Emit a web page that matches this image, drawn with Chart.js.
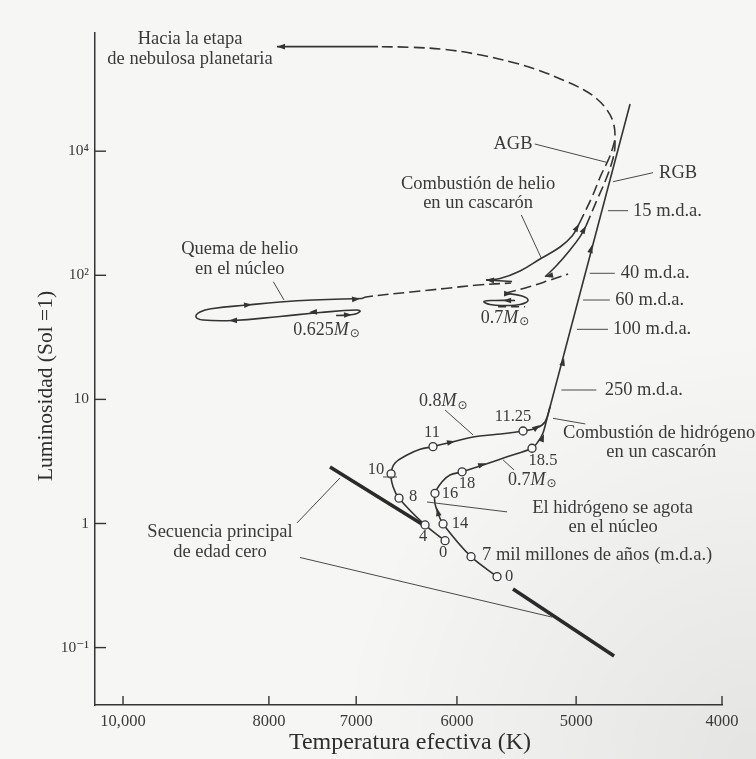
<!DOCTYPE html>
<html>
<head>
<meta charset="utf-8">
<script src="https://cdn.jsdelivr.net/npm/chart.js"></script>
<style>
  html, body { margin: 0; padding: 0; background: #f6f6f5; }
  canvas { display: block; }
</style>
</head>
<body>
<canvas id="hr" width="756" height="759" style="width:756px;height:759px"></canvas>
<script>
// ---- Axis ticks (effective temperature in K, luminosity in solar units) ----
const tempTicks = [10000, 8000, 7000, 6000, 5000, 4000];
const tempTickLabels = ['10,000', '8000', '7000', '6000', '5000', '4000'];
const lumTicks = [0.1, 1, 10, 100, 1000];
const lumTickLabels = ['10\u207B\u00B9', '1', '10', '10\u00B2', '10\u2074'];

// ---- Zero-age main sequence: [T, L] ----
const zamsUpper = [[7286, 2.85], [6300, 0.955]];
const zamsLower = [[5507, 0.297], [4718, 0.0856]];

// ---- 0.8 Msun track from the ZAMS to the red-giant branch ----
const track08 = [[6110, 0.727], [6300, 0.973], [6556, 1.60], [6616, 1.98], [6636, 2.51],
  [6596, 3.07], [6476, 3.56], [6348, 3.96], [6224, 4.16], [6036, 4.56], [5854, 4.98],
  [5643, 5.23], [5423, 5.56], [5308, 5.92], [5243, 6.61], [5203, 8.73]];
const ages08 = ['0', '4', '8', '10', '11', '11.25'];
const agePoints08 = [[6110, 0.727], [6300, 0.973], [6556, 1.60], [6636, 2.51], [6224, 4.16], [5423, 5.56]];

// ---- 0.7 Msun track ----
const track07 = [[5643, 0.373], [5872, 0.540], [6129, 0.991], [6176, 1.21], [6205, 1.45],
  [6205, 1.75], [6138, 2.17], [6064, 2.46], [5953, 2.61], [5765, 2.96], [5557, 3.45],
  [5349, 4.04], [5300, 4.56], [5260, 5.36], [5227, 7.08]];
const ages07 = ['0', '7 mil millones de a\u00F1os (m.d.a.)', '14', '16', '18', '18.5'];
const agePoints07 = [[5643, 0.373], [5872, 0.540], [6129, 0.991], [6205, 1.75], [5953, 2.61], [5349, 4.04]];

// ---- Red-giant branch ----
const rgb = [[5227, 7.08], [4604, 2401]];
const rgbAges = ['15 m.d.a.', '40 m.d.a.', '60 m.d.a.', '100 m.d.a.', '250 m.d.a.'];
const rgbAgeLum = [331.5, 103.8, 63.2, 36.7, 11.9];

// ---- 0.625 Msun: core helium burning loop, shell burning, AGB, exit ----
const hbLoop0625 = [[7219, 47.4], [7034, 48.3], [6959, 51.1], [6991, 52.5], [7398, 50.1],
  [7865, 46.6], [8451, 43.2], [8848, 43.6], [8943, 46.1], [8889, 50.6], [8714, 54.0],
  [8272, 57.6], [7865, 60.9], [7478, 63.2], [6938, 65.0]];
const hbToShell0625 = [[6938, 65.0], [6895, 66.9], [6437, 73.4], [6110, 78.3], [5809, 83.5], [5523, 86.7]];
const shellHook0625 = [[5515, 89.1], [5739, 91.6]];
const shell0625 = [[5739, 91.6], [5617, 94.2], [5448, 108.3], [5284, 135.3], [5124, 169], [5031, 207], [4978, 259]];
const agb0625 = [[4978, 259], [4880, 427.5], [4813, 643], [4754, 881], [4722, 1122], [4711, 1326],
  [4725, 1719], [4769, 2148], [4843, 2634], [4940, 3113], [5085, 3679], [5300, 4512],
  [5523, 5233], [5809, 6015], [6110, 6599], [6437, 6875], [6770, 6960]];
const toNebula = [[6770, 6960], [7901, 6960]];

// ---- 0.7 Msun: helium burning clump, shell burning, AGB ----
const hbLoop07 = [[5490, 62.65], [5660, 62.65], [5756, 61.5], [5704, 58.2], [5574, 57.1],
  [5448, 58.2], [5382, 62.65], [5431, 68.1], [5574, 71.6]];
const hbLoop07Tail = [[5634, 55.8], [5406, 55.8]];
const hbToShell07 = [[5574, 71.6], [5365, 81.2], [5203, 91.6], [5062, 102.4]];
const shell07 = [[5243, 97.4], [5148, 121], [5047, 160], [4970, 205], [4925, 250]];
const agb07 = [[4925, 250], [4843, 404], [4776, 597], [4733, 818], [4714, 1022], [4711, 1231]];

// ---- Direction arrows along the tracks: [tip, tail] ----
const arrowMarks = [
  [[7901, 6960], [7700, 6960]],
  [[5093, 21.6], [5113, 17.9]], [[4880, 175.5], [4899, 145.7]],
  [[6018, 4.60], [6092, 4.45]], [[5284, 6.22], [5341, 5.67]],
  [[5739, 3.06], [5809, 2.91]], [[5252, 5.26], [5276, 4.54]], [[6186, 1.33], [6167, 1.13]],
  [[8209, 58.1], [8335, 57.1]], [[6959, 64.7], [7066, 63.8]], [[8503, 43.2], [8374, 43.4]],
  [[7524, 50.4], [7409, 50.8]], [[7045, 48.2], [7153, 47.7]],
  [[4978, 259], [5008, 228]], [[4925, 250], [4955, 219]],
  [[5739, 91.6], [5652, 90.8]], [[5243, 97.4], [5180, 100.6]],
  [[5515, 70.95], [5600, 71.3]], [[5591, 62.65], [5515, 62.65]]
];

// ---- Leader lines and notes ----
const leaders = [
  [[7663, 1.01], [7175, 2.33]], [[7628, 0.532], [5188, 0.176]],
  [[7946, 88.8], [7817, 63.2]], [[5437, 306], [5273, 137]],
  [[5327, 1143], [4762, 808]], [[4725, 568], [4445, 671]],
  [[4762, 331.5], [4618, 331.5]], [[4897, 103.8], [4713, 103.8]], [[4947, 63.2], [4749, 63.2]],
  [[4993, 36.7], [4762, 36.7]], [[5114, 11.9], [4848, 11.9]],
  [[5180, 7.04], [4930, 6.34]], [[6110, 8.21], [5854, 5.17]], [[5591, 3.25], [5498, 2.70]],
  [[6281, 1.49], [5557, 1.24]], [[6718, 2.37], [6576, 2.37]]
];
const notes = [
  ['Hacia la etapa', 9026, 8019, 'center'],
  ['de nebulosa planetaria', 9026, 5533, 'center'],
  ['AGB', 5507, 1143, 'center'],
  ['RGB', 4404, 671, 'left'],
  ['Combusti\u00F3n de helio', 5809, 544, 'center'],
  ['en un cascar\u00F3n', 5809, 380, 'center'],
  ['Combusti\u00F3n de hidr\u00F3geno', 5101, 5.33, 'left'],
  ['en un cascar\u00F3n', 4389, 3.75, 'center'],
  ['El hidr\u00F3geno se agota', 4729, 1.34, 'center'],
  ['en el n\u00FAcleo', 4725, 0.943, 'center'],
  ['Secuencia principal', 8621, 0.854, 'center'],
  ['de edad cero', 8621, 0.589, 'center'],
  ['Quema de helio', 8365, 162, 'center'],
  ['en el n\u00FAcleo', 8365, 111.8, 'center']
];
const rgbAgeTextT = [4583, 4670, 4709, 4725, 4786];
const massLabels = [['0.625', 7706, 36.2], ['0.7', 5785, 45.0], ['0.8', 6358, 9.58], ['0.7', 5549, 2.24]];

// ---- Styling ----
const FONT = '"Liberation Serif", "DejaVu Serif", serif';
const INK = '#343434';
const TEXT = '#3a3a3a';
const NOTE_PX = 18.5;
// pixel offsets of the age labels from their circles: [dx, dy, align]
const ageOffsets08 = [[-2, 12, 'center'], [-2, 12, 'center'], [14, -1, 'center'], [-15, -4, 'center'], [-1, -14, 'center'], [-10, -14, 'center']];
const ageOffsets07 = [[12, 0, 'center'], [11, -2, 'left'], [17, 0, 'center'], [15, 0, 'center'], [5, 12, 'center'], [11, 12, 'center']];

const toXY = arr => arr.map(([x, y]) => ({ x, y }));
function path(data, extra) {
  return Object.assign({
    data: toXY(data), showLine: true, pointRadius: 0, pointHoverRadius: 0,
    borderColor: INK, borderWidth: 1.6, tension: 0.4, fill: false, order: 1
  }, extra || {});
}
const DASH = [11, 5];

const datasets = [
  path(zamsUpper, { borderWidth: 3.6, tension: 0, borderColor: '#2a2a2a' }),
  path(zamsLower, { borderWidth: 3.6, tension: 0, borderColor: '#2a2a2a' }),
  path(track08),
  path(track07, { tension: 0.3 }),
  path(rgb, { tension: 0 }),
  path(hbLoop0625, { tension: 0.45 }),
  path(hbToShell0625, { borderDash: DASH }),
  path(shellHook0625, { tension: 0 }),
  path(shell0625),
  path(agb0625, { borderDash: DASH }),
  path(toNebula, { tension: 0 }),
  path(hbLoop07, { tension: 0.5 }),
  path(hbLoop07Tail, { borderDash: [8, 5], tension: 0 }),
  path(hbToShell07, { borderDash: DASH }),
  path(shell07),
  path(agb07, { borderDash: DASH }),
  { data: toXY(agePoints08), showLine: false, pointRadius: 4, pointBorderWidth: 1.3,
    pointBackgroundColor: '#f8f8f8', pointBorderColor: INK, order: 0 },
  { data: toXY(agePoints07), showLine: false, pointRadius: 4, pointBorderWidth: 1.3,
    pointBackgroundColor: '#f8f8f8', pointBorderColor: INK, order: 0 }
];

function massLabel(ctx, x, y, num) {
  ctx.textAlign = 'left';
  ctx.textBaseline = 'middle';
  ctx.font = `18px ${FONT}`;
  ctx.fillText(num, x, y);
  let w = ctx.measureText(num).width;
  ctx.font = `italic 18px ${FONT}`;
  ctx.fillText('M', x + w, y);
  w += ctx.measureText('M').width;
  ctx.font = '12px "DejaVu Sans"';
  ctx.fillText('\u2299', x + w + 1, y + 4);
}

const annotate = {
  id: 'annotate',
  beforeDraw(chart) {
    const { ctx, width, height } = chart;
    ctx.save();
    ctx.fillStyle = '#f6f6f5';
    ctx.fillRect(0, 0, width, height);
    const g = ctx.createRadialGradient(width, height, 10, width, height, 420);
    g.addColorStop(0, 'rgba(0,0,0,0.07)');
    g.addColorStop(1, 'rgba(0,0,0,0)');
    ctx.fillStyle = g;
    ctx.fillRect(0, 0, width, height);
    ctx.restore();
  },
  afterDatasetsDraw(chart) {
    const { ctx, chartArea: ca } = chart;
    const sx = chart.scales.x, sy = chart.scales.y;
    const P = ([t, l]) => [sx.getPixelForValue(t), sy.getPixelForValue(l)];
    ctx.save();

    // inward tick marks
    ctx.strokeStyle = INK;
    ctx.lineWidth = 1.4;
    tempTicks.forEach(t => {
      const px = sx.getPixelForValue(t);
      ctx.beginPath(); ctx.moveTo(px, ca.bottom); ctx.lineTo(px, ca.bottom - 9); ctx.stroke();
    });
    lumTicks.forEach(l => {
      const py = sy.getPixelForValue(l);
      ctx.beginPath(); ctx.moveTo(ca.left, py); ctx.lineTo(ca.left + 11, py); ctx.stroke();
    });

    // leader lines
    ctx.strokeStyle = '#4a4a4a';
    ctx.lineWidth = 1;
    leaders.forEach(([a, b]) => {
      const [x1, y1] = P(a), [x2, y2] = P(b);
      ctx.beginPath(); ctx.moveTo(x1, y1); ctx.lineTo(x2, y2); ctx.stroke();
    });

    // arrowheads
    ctx.fillStyle = INK;
    arrowMarks.forEach(([tip, tail]) => {
      const [x1, y1] = P(tip), [x0, y0] = P(tail);
      const d = Math.hypot(x1 - x0, y1 - y0) || 1;
      const ux = (x1 - x0) / d, uy = (y1 - y0) / d;
      const len = 8, hw = 2.8;
      ctx.beginPath();
      ctx.moveTo(x1, y1);
      ctx.lineTo(x1 - ux * len - uy * hw, y1 - uy * len + ux * hw);
      ctx.lineTo(x1 - ux * len + uy * hw, y1 - uy * len - ux * hw);
      ctx.closePath();
      ctx.fill();
    });

    // notes
    ctx.fillStyle = TEXT;
    ctx.textBaseline = 'middle';
    ctx.font = `${NOTE_PX}px ${FONT}`;
    notes.forEach(([txt, t, l, align]) => {
      const [px, py] = P([t, l]);
      ctx.textAlign = align;
      ctx.fillText(txt, px, py);
    });
    ctx.textAlign = 'left';
    rgbAges.forEach((txt, i) => {
      const [px, py] = P([rgbAgeTextT[i], rgbAgeLum[i]]);
      ctx.fillText(txt, px, py);
    });

    // age labels next to the circles
    ages08.forEach((txt, i) => {
      const [px, py] = P(agePoints08[i]);
      const [dx, dy, al] = ageOffsets08[i];
      ctx.font = `16.5px ${FONT}`;
      ctx.textAlign = al; ctx.fillText(txt, px + dx, py + dy);
    });
    ages07.forEach((txt, i) => {
      const [px, py] = P(agePoints07[i]);
      const [dx, dy, al] = ageOffsets07[i];
      ctx.font = i === 1 ? `${NOTE_PX}px ${FONT}` : `16.5px ${FONT}`;
      ctx.textAlign = al; ctx.fillText(txt, px + dx, py + dy);
    });

    // mass labels
    massLabels.forEach(([num, t, l]) => {
      const [px, py] = P([t, l]);
      massLabel(ctx, px, py, num);
    });

    // axis titles
    ctx.fillStyle = '#2e2e2e';
    ctx.textAlign = 'center';
    ctx.textBaseline = 'middle';
    ctx.font = `24px ${FONT}`;
    ctx.fillText('Temperatura efectiva (K)', 410, 743);
    ctx.translate(46, 386);
    ctx.rotate(-Math.PI / 2);
    ctx.font = `21.5px ${FONT}`;
    ctx.fillText('Luminosidad (Sol =1)', 0, 0);
    ctx.restore();
  }
};

new Chart(document.getElementById('hr'), {
  type: 'scatter',
  data: { datasets },
  plugins: [annotate],
  options: {
    responsive: false,
    animation: false,
    devicePixelRatio: 1,
    layout: { padding: { top: 33, right: 34, left: 0, bottom: 0 } },
    plugins: { legend: { display: false }, tooltip: { enabled: false } },
    events: [],
    scales: {
      x: {
        type: 'logarithmic',
        reverse: true,
        min: 4000,
        max: 10438,
        afterBuildTicks: s => { s.ticks = tempTicks.map(v => ({ value: v })); },
        afterFit: s => { s.height = 54; },
        ticks: {
          autoSkip: false, maxRotation: 0, minRotation: 0, padding: 7,
          color: '#3a3a3a', font: { family: FONT, size: 16.5 },
          callback: v => tempTickLabels[tempTicks.indexOf(v)]
        },
        grid: { display: false, drawTicks: false },
        border: { display: true, color: INK, width: 1.5 }
      },
      y: {
        type: 'logarithmic',
        min: 0.03446,
        max: 8963,
        afterBuildTicks: s => { s.ticks = lumTicks.map(v => ({ value: v })); },
        afterFit: s => { s.width = 95; },
        ticks: {
          autoSkip: false, padding: 6,
          color: '#3a3a3a', font: { family: FONT, size: 15.5 },
          callback: v => lumTickLabels[lumTicks.indexOf(v)]
        },
        grid: { display: false, drawTicks: false },
        border: { display: true, color: INK, width: 1.5 }
      }
    }
  }
});
</script>
</body>
</html>
